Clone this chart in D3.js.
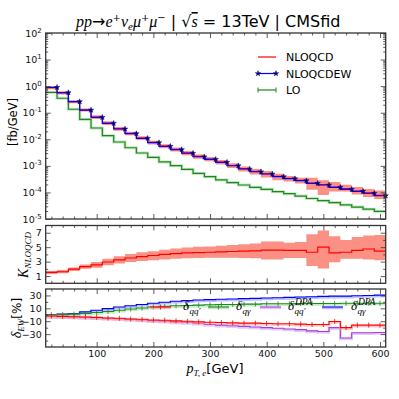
<!DOCTYPE html>
<html>
<head>
<meta charset="utf-8">
<script src="https://cdn.jsdelivr.net/npm/d3@7"></script>
<style>
  body { margin: 0; background: #fff; }
  text { font-family: "DejaVu Sans", sans-serif; }
  .math { font-family: "Liberation Serif", serif; font-style: italic; }
</style>
</head>
<body>
<div id="root"></div>
<script>
// bin edges of the p_T,e histogram [GeV]
var edges = [10,30,50,70,90,110,130,150,170,190,210,230,250,270,290,310,330,350,370,390,410,430,450,470,490,510,530,550,570,590,610];

// differential cross sections [fb/GeV]
var nloqcdew = [0.90,0.57,0.26,0.126,0.067,0.040,0.0244,0.0163,0.0109,0.00745,0.00545,0.0041,0.00298,0.0022,0.00176,0.00136,0.00101,0.00076,0.00060,0.000493,0.00039,0.000328,0.000276,0.00022,0.00019,0.000156,0.000131,0.00011,0.000093,0.000075];
var nloqcd   = [0.88,0.56,0.26,0.128,0.069,0.041,0.0250,0.0167,0.0112,0.00765,0.00560,0.0042,0.00306,0.00226,0.00180,0.00139,0.00103,0.00078,0.00062,0.000505,0.00040,0.000336,0.000283,0.000226,0.000196,0.000158,0.000138,0.000113,0.000096,0.000078];
var lo       = [0.58,0.35,0.135,0.056,0.0266,0.0137,0.0079,0.0048,0.00305,0.0021,0.0014,0.00102,0.00074,0.00052,0.00039,0.000295,0.000235,0.00019,0.000156,0.000131,0.000107,0.00009,0.000073,0.000059,0.000049,0.0000415,0.000034,0.000028,0.0000235,0.0000195];

// K factor NLOQCD/LO with scale band
var kFactor = [1.5,1.6,1.95,2.3,2.55,2.95,3.25,3.5,3.7,3.85,4.0,4.1,4.2,4.25,4.3,4.35,4.4,4.45,4.5,4.6,4.6,4.55,4.55,4.3,5.0,4.2,4.3,4.55,4.75,4.45];
var kLow     = [1.3,1.4,1.7,2.0,2.15,2.5,2.75,2.95,3.1,3.2,3.3,3.4,3.45,3.5,3.55,3.55,3.55,3.5,3.45,3.3,3.3,3.5,3.5,2.4,2.05,2.9,3.4,3.4,3.3,3.2];
var kHigh    = [1.7,1.85,2.2,2.6,2.95,3.4,3.75,4.05,4.3,4.45,4.65,4.8,4.95,5.05,5.1,5.2,5.3,5.4,5.5,5.8,5.8,5.6,5.7,6.8,7.3,6.5,6.0,6.4,6.6,6.7];

// EW corrections [%]
var dQQ     = [-2,-2.5,-3,-3.5,-4,-5,-5.5,-6.5,-7,-8,-8.5,-9.5,-10,-11,-11.5,-12,-12.5,-13,-13,-13.5,-14,-14,-14.5,-15,-15,-10.5,-20,-16,-16,-16];
var dQG     = [0,0.5,1,2,3.5,5,7,9,10.5,12,13,14,14.5,15,15.5,16,16,16.5,16.5,17,17,17,17.5,17.5,17.5,17.5,18,18,18,18];
var dQQdpa  = [-2.5,-3,-3.5,-4,-4.5,-5.5,-6,-7,-8,-9,-10,-11,-12,-13.5,-15,-16,-17,-18,-19,-20,-21,-22,-23,-25,-26,-20,-36,-28,-28,-27.5];
var dQGdpa  = [0.5,1,2,4.5,7,9.5,12,14,16,18,19.5,21,22,23,23.5,24,24.5,25,25.5,26,26.5,27,27.5,28,28.5,29,29,29.5,30,30.5];

// tick values
var xMajor = [100,200,300,400,500,600];
var xMinor = [20,40,60,80,120,140,160,180,220,240,260,280,320,340,360,380,420,440,460,480,520,540,560,580];
var mainMajor = [1e-5,1e-4,1e-3,1e-2,1e-1,1,10,100];
var kMajor = [1,3,5,7];
var kMinor = [2,4,6];
var dMajor = [-30,-10,10,30];
var dMinor = [-40,-20,0,20];


function drawChart() {

  var width = 399, height = 399;
  var left = 45.7, right = 385.7;
  var panels = {
    main: {top: 33, bottom: 219},
    k:    {top: 225.5, bottom: 283.3},
    d:    {top: 289, bottom: 347}
  };

  var svg = d3.select("#root").append("svg")
      .attr("width", width)
      .attr("height", height);

  // scales
  var x = d3.scaleLinear().domain([10, 610]).range([left, right]);
  var yMain = d3.scaleLog().domain([1e-5, 1e2]).range([panels.main.bottom, panels.main.top]);
  var yK = d3.scaleLinear().domain([0, 8]).range([panels.k.bottom, panels.k.top]);
  var yD = d3.scaleLinear().domain([-50, 40]).range([panels.d.bottom, panels.d.top]);

  // log minor ticks
  var mainMinor = [];
  for (var e = -5; e < 2; e++) {
    for (var m = 2; m < 10; m++) mainMinor.push(m * Math.pow(10, e));
  }

  function steps(vals) {
    var pts = vals.map(function(v, i) { return [edges[i], v]; });
    pts.push([edges[edges.length - 1], vals[vals.length - 1]]);
    return pts;
  }
  function bandSteps(lo, hi) {
    var pts = lo.map(function(v, i) { return [edges[i], v, hi[i]]; });
    pts.push([edges[edges.length - 1], lo[lo.length - 1], hi[hi.length - 1]]);
    return pts;
  }
  function stepLine(y) {
    return d3.line().x(function(d) { return x(d[0]); })
      .y(function(d) { return y(d[1]); })
      .curve(d3.curveStepAfter);
  }
  function stepArea(y) {
    return d3.area().x(function(d) { return x(d[0]); })
      .y0(function(d) { return y(d[1]); })
      .y1(function(d) { return y(d[2]); })
      .curve(d3.curveStepAfter);
  }

  // clip paths for the panels
  var defs = svg.append("defs");
  Object.keys(panels).forEach(function(k) {
    defs.append("clipPath").attr("id", "clip-" + k)
      .append("rect")
      .attr("x", left).attr("y", panels[k].top)
      .attr("width", right - left).attr("height", panels[k].bottom - panels[k].top);
  });

  // ---------- main panel ----------
  var gMain = svg.append("g").attr("clip-path", "url(#clip-main)");

  var bandLo = nloqcd.map(function(v, i) { return v * kLow[i] / kFactor[i]; });
  var bandHi = nloqcd.map(function(v, i) { return v * kHigh[i] / kFactor[i]; });

  gMain.append("path")
    .attr("d", stepArea(yMain)(bandSteps(bandLo, bandHi)))
    .attr("fill", "#fa7d6e").attr("opacity", 0.85);

  gMain.append("path")
    .attr("d", stepLine(yMain)(steps(lo)))
    .attr("fill", "none").attr("stroke", "#9fd39f").attr("stroke-width", 3).attr("opacity", 0.6);
  gMain.append("path")
    .attr("d", stepLine(yMain)(steps(lo)))
    .attr("fill", "none").attr("stroke", "#1a8a1a").attr("stroke-width", 1.2);

  gMain.append("path")
    .attr("d", stepLine(yMain)(steps(nloqcd)))
    .attr("fill", "none").attr("stroke", "red").attr("stroke-width", 1.2);

  gMain.append("path")
    .attr("d", stepLine(yMain)(steps(nloqcdew)))
    .attr("fill", "none").attr("stroke", "blue").attr("stroke-width", 1.2);

  var star = d3.symbol().type(d3.symbolStar).size(9);
  svg.append("g").selectAll(".star")
    .data(nloqcdew)
    .enter().append("path")
    .attr("class", "star")
    .attr("d", star)
    .attr("transform", function(d, i) { return "translate(" + x(edges[i + 1]) + "," + yMain(d) + ")"; })
    .attr("fill", "#000060").attr("stroke", "#000090").attr("stroke-width", 0.5);

  // legend
  var leg = svg.append("g").attr("class", "legend");
  var legX0 = 258, legX1 = 276, legText = 286;
  leg.append("line").attr("x1", legX0).attr("x2", legX1).attr("y1", 57).attr("y2", 57)
    .attr("stroke", "red").attr("stroke-width", 1.2);
  leg.append("text").attr("x", legText).attr("y", 61).attr("font-size", 11).text("NLOQCD");
  leg.append("line").attr("x1", legX0).attr("x2", legX1).attr("y1", 73.5).attr("y2", 73.5)
    .attr("stroke", "blue").attr("stroke-width", 1.2);
  [legX0, legX1].forEach(function(px) {
    leg.append("path").attr("d", star).attr("transform", "translate(" + px + ",73.5)")
      .attr("fill", "#000060").attr("stroke", "#000090").attr("stroke-width", 0.5);
  });
  leg.append("text").attr("x", legText).attr("y", 77.5).attr("font-size", 11).text("NLOQCDEW");
  leg.append("line").attr("x1", legX0).attr("x2", legX1).attr("y1", 90).attr("y2", 90)
    .attr("stroke", "#1a8a1a").attr("stroke-width", 1.2);
  [legX0, legX1].forEach(function(px) {
    leg.append("line").attr("x1", px).attr("x2", px).attr("y1", 87.5).attr("y2", 92.5)
      .attr("stroke", "#1a8a1a").attr("stroke-width", 1);
  });
  leg.append("text").attr("x", legText).attr("y", 94).attr("font-size", 11).text("LO");

  // ---------- K panel ----------
  var gK = svg.append("g").attr("clip-path", "url(#clip-k)");
  gK.append("path")
    .attr("d", stepArea(yK)(bandSteps(kLow, kHigh)))
    .attr("fill", "#fa7d6e").attr("opacity", 0.85);
  gK.append("path")
    .attr("d", stepLine(yK)(steps(kFactor)))
    .attr("fill", "none").attr("stroke", "red").attr("stroke-width", 1.2);

  // ---------- delta EW panel ----------
  var gD = svg.append("g").attr("clip-path", "url(#clip-d)");
  var dSeries = [
    {vals: dQGdpa, color: "blue", light: "#9a9af0", bars: false},
    {vals: dQQdpa, color: "#a23be0", light: "#d4a8f0", bars: false},
    {vals: dQG, color: "#1a8a1a", light: "#a8dca8", bars: true},
    {vals: dQQ, color: "red", light: "#f5a8a8", bars: true}
  ];
  dSeries.forEach(function(s) {
    gD.append("path")
      .attr("d", stepLine(yD)(steps(s.vals)))
      .attr("fill", "none").attr("stroke", s.light).attr("stroke-width", 2.6).attr("opacity", 0.6)
      .attr("transform", "translate(0,1)");
    gD.append("path")
      .attr("d", stepLine(yD)(steps(s.vals)))
      .attr("fill", "none").attr("stroke", s.color).attr("stroke-width", 1.1);
    if (s.bars) {
      gD.selectAll(null)
        .data(s.vals)
        .enter().append("line")
        .attr("x1", function(d, i) { return x((edges[i] + edges[i + 1]) / 2); })
        .attr("x2", function(d, i) { return x((edges[i] + edges[i + 1]) / 2); })
        .attr("y1", function(d) { return yD(d) - 2.5; })
        .attr("y2", function(d) { return yD(d) + 2.5; })
        .attr("stroke", s.color).attr("stroke-width", 0.8);
    }
  });

  // legend of delta panel
  var dLeg = [
    {x0: 150, color: "red", light: "#f5a8a8", bars: true, tx: 183, sub: "qq\u2032", sup: ""},
    {x0: 208, color: "#1a8a1a", light: "#a8dca8", bars: true, tx: 236, sub: "q\u03b3", sup: ""},
    {x0: 260, color: "#a23be0", light: "#d4a8f0", bars: false, tx: 288, sub: "qq\u2032", sup: "DPA"},
    {x0: 322, color: "blue", light: "#9a9af0", bars: false, tx: 351, sub: "q\u03b3", sup: "DPA"}
  ];
  var legY = 307;
  dLeg.forEach(function(l) {
    svg.append("line").attr("x1", l.x0).attr("x2", l.x0 + 21).attr("y1", legY + 1).attr("y2", legY + 1)
      .attr("stroke", l.light).attr("stroke-width", 2.6).attr("opacity", 0.6);
    svg.append("line").attr("x1", l.x0).attr("x2", l.x0 + 21).attr("y1", legY).attr("y2", legY)
      .attr("stroke", l.color).attr("stroke-width", 1.1);
    if (l.bars) {
      svg.append("line").attr("x1", l.x0 + 10.5).attr("x2", l.x0 + 10.5)
        .attr("y1", legY - 2.5).attr("y2", legY + 2.5)
        .attr("stroke", l.color).attr("stroke-width", 0.8);
    }
    svg.append("text").attr("class", "math").attr("x", l.tx).attr("y", legY + 3)
      .attr("font-size", 13).text("\u03b4");
    svg.append("text").attr("class", "math").attr("x", l.tx + 6.5).attr("y", legY + 7)
      .attr("font-size", 9).text(l.sub);
    if (l.sup) {
      svg.append("text").attr("class", "math").attr("x", l.tx + 7).attr("y", legY - 2)
        .attr("font-size", 9.5).text(l.sup);
    }
  });

  // ---------- axes ----------
  var axisColor = "#333";

  function styleAxis(g) {
    g.select(".domain").remove();
    g.selectAll("line").attr("stroke", axisColor).attr("stroke-width", 0.8);
    g.selectAll("text").attr("font-family", "DejaVu Sans, sans-serif")
      .attr("font-size", 9.5).attr("fill", "#111");
  }

  function panelAxes(p, yScale, major, minor, fmt, showX) {
    // left / right
    svg.append("g").attr("transform", "translate(" + left + ",0)")
      .call(d3.axisLeft(yScale).tickValues(major).tickSize(-5).tickPadding(4).tickFormat(fmt))
      .call(styleAxis);
    svg.append("g").attr("transform", "translate(" + left + ",0)")
      .call(d3.axisLeft(yScale).tickValues(minor).tickSize(-2.5).tickFormat(""))
      .call(styleAxis);
    svg.append("g").attr("transform", "translate(" + right + ",0)")
      .call(d3.axisRight(yScale).tickValues(major).tickSize(-5).tickFormat(""))
      .call(styleAxis);
    svg.append("g").attr("transform", "translate(" + right + ",0)")
      .call(d3.axisRight(yScale).tickValues(minor).tickSize(-2.5).tickFormat(""))
      .call(styleAxis);
    // top / bottom
    svg.append("g").attr("transform", "translate(0," + p.bottom + ")")
      .call(d3.axisBottom(x).tickValues(xMajor).tickSize(-5).tickPadding(3).tickFormat(showX ? d3.format("d") : ""))
      .call(styleAxis);
    svg.append("g").attr("transform", "translate(0," + p.bottom + ")")
      .call(d3.axisBottom(x).tickValues(xMinor).tickSize(-2.5).tickFormat(""))
      .call(styleAxis);
    svg.append("g").attr("transform", "translate(0," + p.top + ")")
      .call(d3.axisTop(x).tickValues(xMajor).tickSize(-5).tickFormat(""))
      .call(styleAxis);
    svg.append("g").attr("transform", "translate(0," + p.top + ")")
      .call(d3.axisTop(x).tickValues(xMinor).tickSize(-2.5).tickFormat(""))
      .call(styleAxis);
    // frame
    svg.append("rect")
      .attr("x", left).attr("y", p.top)
      .attr("width", right - left).attr("height", p.bottom - p.top)
      .attr("fill", "none").attr("stroke", axisColor).attr("stroke-width", 1.3);
  }

  panelAxes(panels.main, yMain, mainMajor, mainMinor, function() { return ""; }, false);
  panelAxes(panels.k, yK, kMajor, kMinor, d3.format("d"), false);
  panelAxes(panels.d, yD, dMajor, dMinor, function(d) { return d < 0 ? "\u2212" + Math.abs(d) : d; }, true);

  // log tick labels 10^n
  var logLabels = svg.append("g");
  mainMajor.forEach(function(v) {
    var exp = Math.round(Math.log10(v));
    var t = logLabels.append("text")
      .attr("x", left - 4).attr("y", yMain(v) + 3.5)
      .attr("text-anchor", "end").attr("font-size", 9.5).attr("fill", "#111");
    t.append("tspan").text("10");
    t.append("tspan").attr("dy", -4).attr("font-size", 7)
      .text(exp < 0 ? "-" + Math.abs(exp) : exp);
  });

  // ---------- titles ----------
  var title = svg.append("text").attr("x", 76).attr("y", 27).attr("font-size", 16);
  title.append("tspan").attr("class", "math").text("pp");
  title.append("tspan").attr("font-family", "DejaVu Sans").attr("font-style", "normal").text("\u2192");
  title.append("tspan").attr("class", "math").text("e");
  title.append("tspan").attr("font-family", "DejaVu Serif").attr("font-size", 10).attr("dy", -6).text("+");
  title.append("tspan").attr("class", "math").attr("dy", 6).text("\u03bd");
  title.append("tspan").attr("class", "math").attr("font-size", 11).attr("dy", 3).text("e");
  title.append("tspan").attr("class", "math").attr("dy", -3).text("\u03bc");
  title.append("tspan").attr("font-family", "DejaVu Serif").attr("font-size", 10).attr("dy", -6).text("+");
  title.append("tspan").attr("class", "math").attr("dy", 6).text("\u03bc");
  title.append("tspan").attr("font-family", "DejaVu Serif").attr("font-size", 10).attr("dy", -6).text("\u2212");
  title.append("tspan").attr("font-family", "DejaVu Sans").attr("dy", 6).text(" | ");
  title.append("tspan").attr("font-family", "DejaVu Serif").text("\u221a");
  title.append("tspan").attr("class", "math").attr("text-decoration", "overline").text("s");
  title.append("tspan").attr("font-family", "DejaVu Serif").text(" = ");
  title.append("tspan").text("13TeV | CMSfid");

  // y labels
  svg.append("text")
    .attr("transform", "translate(17,122) rotate(-90)")
    .attr("text-anchor", "middle").attr("font-size", 11.5)
    .text("[fb/GeV]");

  var kl = svg.append("text")
    .attr("transform", "translate(28,255) rotate(-90)")
    .attr("text-anchor", "middle");
  kl.append("tspan").attr("class", "math").attr("font-size", 14).text("K");
  kl.append("tspan").attr("class", "math").attr("font-size", 9).attr("dy", 3).text("NLOQCD");

  var dl = svg.append("text")
    .attr("transform", "translate(21,318) rotate(-90)")
    .attr("text-anchor", "middle");
  dl.append("tspan").attr("class", "math").attr("font-size", 14).text("\u03b4");
  dl.append("tspan").attr("class", "math").attr("font-size", 9).attr("dy", 3).text("EW");
  dl.append("tspan").attr("font-size", 12).attr("dy", -3).text("[%]");

  // x label
  var xl = svg.append("text")
    .attr("x", 215).attr("y", 373)
    .attr("text-anchor", "middle");
  xl.append("tspan").attr("class", "math").attr("font-size", 14).text("p");
  xl.append("tspan").attr("class", "math").attr("font-size", 9).attr("dy", 3).text("T, e");
  xl.append("tspan").attr("font-size", 13).attr("dy", -3).text("[GeV]");
}


drawChart();
</script>
</body>
</html>
